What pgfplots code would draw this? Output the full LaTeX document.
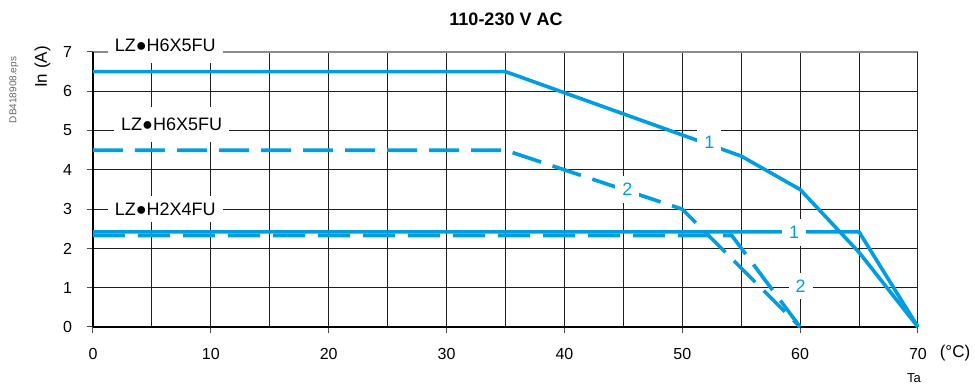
\documentclass[border=0pt]{standalone}
\usepackage{fontspec}
\setmainfont{Liberation Sans}
\usepackage{pgfplots}
\pgfplotsset{compat=1.18}
\definecolor{lblue}{RGB}{0,158,224}
\begin{document}
\begin{tikzpicture}
\useasboundingbox (-46.5pt,-29pt) rectangle (441pt,163.5pt);
\begin{axis}[
  scale only axis, width=412.5pt, height=137.5pt,
  at={(0,0)}, anchor=south west,
  xmin=0, xmax=70, ymin=0, ymax=7,
  xtick={0,10,...,70}, minor xtick={5,15,...,65}, ytick={0,...,7},
  grid=both,
  major grid style={line width=0.5pt, black!88},
  minor grid style={line width=0.5pt, black!88},
  axis line style={draw=none},
  tick align=outside, major tick length=3pt, minor tick length=0pt,
  tick style={black!70, line width=0.5pt},
  xtick pos=bottom, ytick pos=left,
  tick label style={font=\fontsize{8}{9}\selectfont},
  /pgf/number format/assume math mode=true,
  xticklabel style={yshift=-4pt},
  yticklabel style={xshift=-4pt},
  clip=false,
]
\draw[black!45, line width=0.6pt] (axis cs:0,7) -- (axis cs:70,7);
\draw[black, line width=0.6pt] (axis cs:0,0) -- (axis cs:0,7);
\draw[black!85, line width=0.5pt] (axis cs:70,0) -- (axis cs:70,7);
\draw[black, line width=1.3pt] (axis cs:0,0) -- (axis cs:70,0);

\addplot[lblue, line width=1.8pt] coordinates {(0,6.5) (35,6.5) (55,4.35) (60,3.5) (65,1.9) (70,0)};
\addplot[lblue, line width=1.8pt, dash pattern=on 15pt off 6pt] coordinates {(0,4.5) (35,4.5) (50,3.0) (60,0)};
\addplot[lblue, line width=1.8pt] coordinates {(0,2.42) (65,2.42) (70,0)};
\addplot[lblue, line width=1.8pt, dash pattern=on 16pt off 6.5pt] coordinates {(0,2.33) (54.2,2.33) (60,0)};

\node[fill=white, inner xsep=3.5pt, inner ysep=5.5pt, anchor=base, text depth=0pt, font=\fontsize{9}{10}\selectfont] at (axis cs:6.13,7) {LZ●H6X5FU};
\node[fill=white, inner xsep=3.5pt, inner ysep=5.5pt, anchor=base, text depth=0pt, font=\fontsize{9}{10}\selectfont] at (axis cs:6.67,5) {LZ●H6X5FU};
\node[fill=white, inner xsep=3.5pt, inner ysep=3.5pt, anchor=center, text depth=0pt, font=\fontsize{9}{10}\selectfont] at (axis cs:6.13,3) {LZ●H2X4FU};

\node[fill=white, text=lblue, inner sep=3.5pt, font=\fontsize{9}{10}\selectfont] at (axis cs:52.3,4.69) {1};
\node[fill=white, text=lblue, inner sep=3.5pt, font=\fontsize{9}{10}\selectfont] at (axis cs:59.5,2.41) {1};
\node[fill=white, text=lblue, inner sep=3.5pt, font=\fontsize{9}{10}\selectfont] at (axis cs:45.35,3.5) {2};
\node[fill=white, text=lblue, inner sep=3.5pt, font=\fontsize{9}{10}\selectfont] at (axis cs:60.05,1.04) {2};
\end{axis}
\node[font=\bfseries\fontsize{9}{10}\selectfont] at (206.5pt,153.6pt) {110-230 V AC};
\node[rotate=90, font=\fontsize{8.5}{10}\selectfont] at (-25.25pt,130pt) {In (A)};
\node[rotate=90, text=black!60, font=\fontsize{5}{6}\selectfont] at (-39.5pt,118.5pt) {DB418908.eps};
\node[font=\fontsize{8.5}{10}\selectfont] at (431pt,-13pt) {(°C)};
\node[font=\fontsize{6.5}{8}\selectfont] at (410.5pt,-25.5pt) {Ta};
\end{tikzpicture}
\end{document}
